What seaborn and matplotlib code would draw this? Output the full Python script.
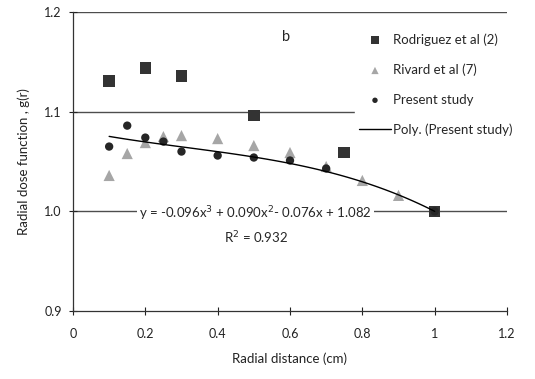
import numpy as np
import pandas as pd
import matplotlib
matplotlib.use("Agg")
import matplotlib.pyplot as plt
import seaborn as sns

# Data
rod_x = [0.1, 0.2, 0.3, 0.5, 0.75, 1.0]
rod_y = [1.131, 1.144, 1.136, 1.096, 1.059, 1.000]
riv_x = [0.1, 0.15, 0.2, 0.25, 0.3, 0.4, 0.5, 0.6, 0.7, 0.8, 0.9, 1.0]
riv_y = [1.036, 1.058, 1.069, 1.075, 1.076, 1.073, 1.066, 1.059, 1.045, 1.031, 1.016, 1.000]
pre_x = [0.1, 0.15, 0.2, 0.25, 0.3, 0.4, 0.5, 0.6, 0.7, 1.0]
pre_y = [1.065, 1.086, 1.074, 1.070, 1.060, 1.056, 1.054, 1.051, 1.043, 1.000]
poly_coef = [-0.096, 0.090, -0.076, 1.082]
x_ticks = [0, 0.2, 0.4, 0.6, 0.8, 1, 1.2]
x_tick_labels = ["0", "0.2", "0.4", "0.6", "0.8", "1", "1.2"]
y_ticks = [0.9, 1.0, 1.1, 1.2]
y_tick_labels = ["0.9", "1.0", "1.1", "1.2"]

sns.set_theme(style="white")
plt.rcParams['font.family'] = ['Lato', 'DejaVu Sans']

fig = plt.figure(figsize=(5.35, 3.79), dpi=100)
ax = fig.add_axes([0.1364, 0.1794, 0.8113, 0.7889])

for yv in [1.0, 1.1, 1.2]:
    ax.axhline(yv, color="#4d4d4d", lw=1.0, zorder=0)

df_rod = pd.DataFrame({"x": rod_x, "y": rod_y})
df_riv = pd.DataFrame({"x": riv_x, "y": riv_y})
df_pre = pd.DataFrame({"x": pre_x, "y": pre_y})

sns.scatterplot(data=df_rod, x="x", y="y", marker="s", s=70, color="#333333",
                edgecolor="none", ax=ax, label="Rodriguez et al (2)", zorder=3)
sns.scatterplot(data=df_riv, x="x", y="y", marker="^", s=65, color="#a6a6a6",
                edgecolor="none", ax=ax, label="Rivard et al (7)", zorder=2)
sns.scatterplot(data=df_pre, x="x", y="y", marker="o", s=36, color="#262626",
                edgecolor="none", ax=ax, label="Present study", zorder=4)
xf = np.linspace(min(pre_x), max(pre_x), 100)
yf = np.polyval(poly_coef, xf)
sns.lineplot(x=xf, y=yf, color="black", lw=1.0, ax=ax, label="Poly. (Present study)", zorder=5)

ax.set_xlim(0, 1.2)
ax.set_ylim(0.9, 1.2)
ax.set_xticks(x_ticks)
ax.set_xticklabels(x_tick_labels)
ax.set_yticks(y_ticks)
ax.set_yticklabels(y_tick_labels)
ax.tick_params(axis="both", labelsize=9, direction="inout", length=6, width=0.8,
               colors="#222222", bottom=True, left=True, pad=5)
ax.tick_params(axis="x", pad=9)
ax.set_xlabel("Radial distance (cm)", fontsize=9.5, labelpad=9, color="#222222")
ax.set_ylabel("Radial dose function , g(r)", fontsize=9.5, labelpad=10, color="#222222")

for side in ["top", "right"]:
    ax.spines[side].set_visible(False)
for side in ["left", "bottom"]:
    ax.spines[side].set_color("#333333")
    ax.spines[side].set_linewidth(0.9)

leg = ax.legend(loc="upper left", bbox_to_anchor=(0.635, 0.965), frameon=True,
                fontsize=9.5, handlelength=2.4, labelspacing=1.35, borderpad=0.3,
                handletextpad=0.2, markerscale=0.65)
leg.get_frame().set_facecolor("white")
leg.get_frame().set_edgecolor("white")
leg.get_frame().set_alpha(1.0)
leg.get_frame().set_boxstyle("square", pad=0)

ax.text(0.59, 1.175, "b", fontsize=10.5, ha="center", va="center")
ax.text(0.505, 0.998, "y = -0.096x$^3$ + 0.090x$^2$- 0.076x + 1.082", fontsize=9.5,
        ha="center", va="center",
        bbox=dict(facecolor="white", edgecolor="none", pad=1.5), zorder=6)
ax.text(0.505, 0.974, "R$^2$ = 0.932", fontsize=9.5, ha="center", va="center", zorder=6)

fig.savefig("out.png", dpi=100)
